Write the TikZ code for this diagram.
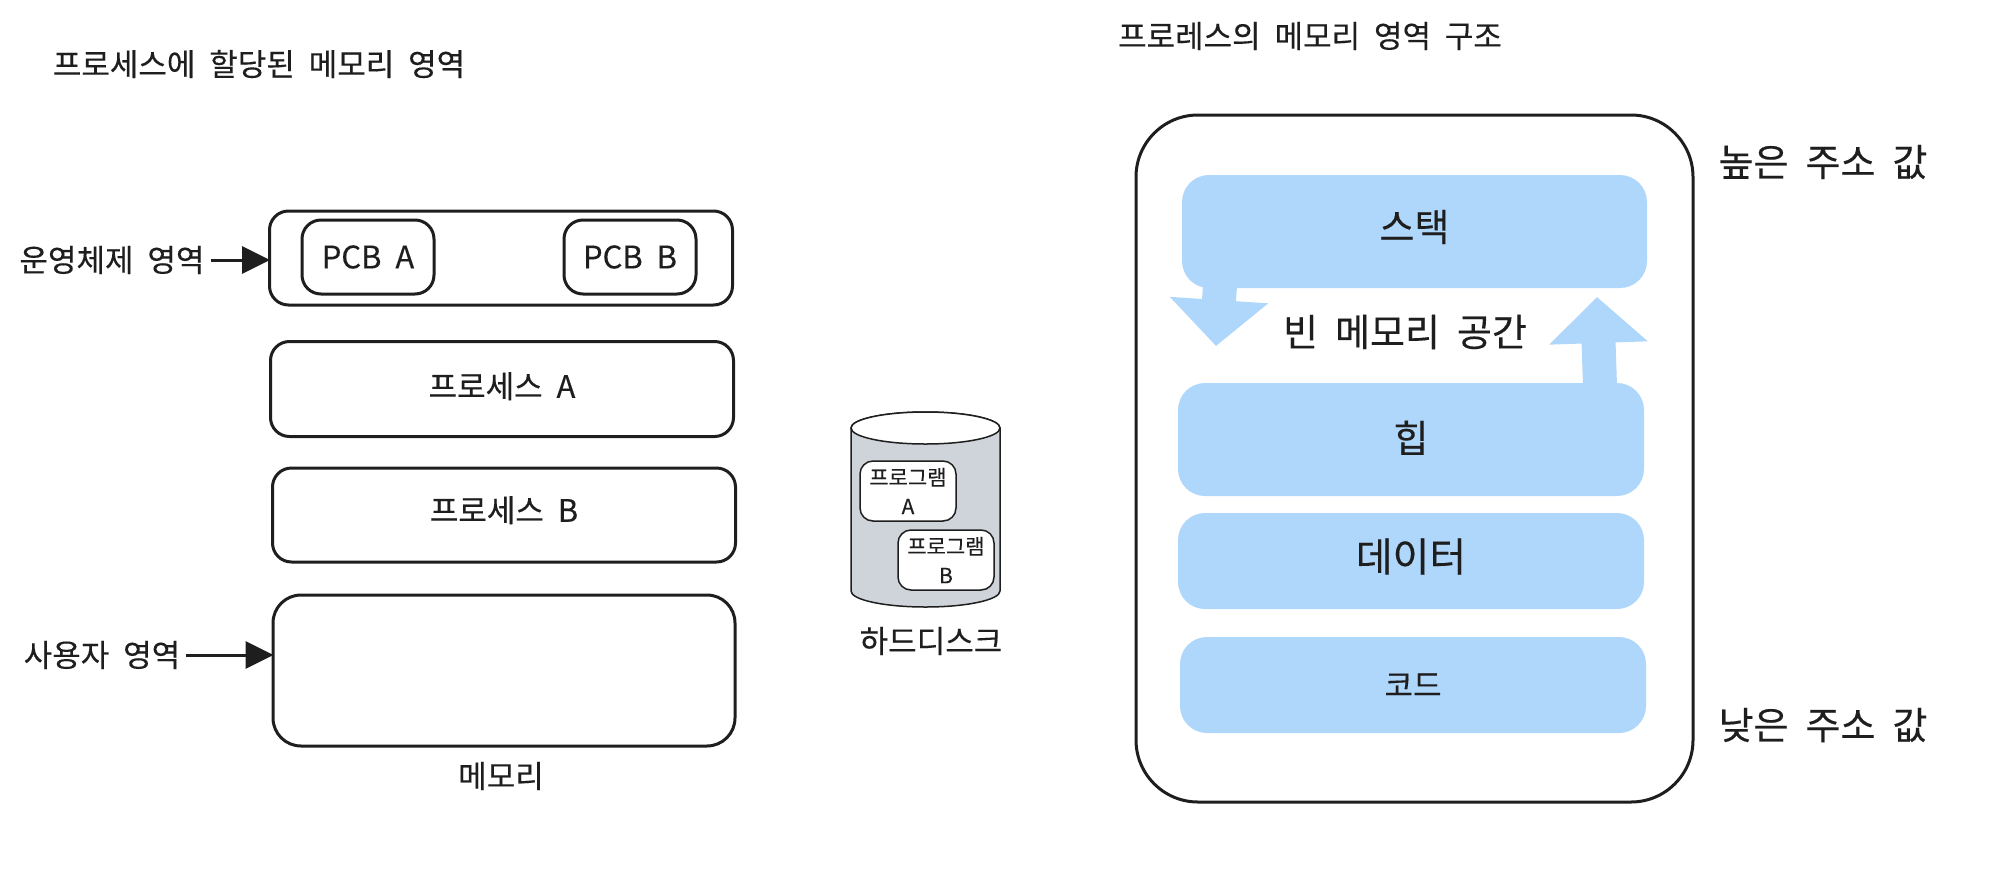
\documentclass[tikz,border=0pt]{standalone}
\usepackage{fontspec}
\setmainfont[WordSpace=2,FakeBold=0.25]{Noto Sans CJK KR}
\usepackage{tikz}
\usepackage{xcolor}
\usetikzlibrary{arrows.meta}
\definecolor{inkblack}{HTML}{1E1E1E}
\definecolor{segblue}{HTML}{AFD6FB}
\definecolor{diskgray}{HTML}{CED4D9}
\tikzset{
	smalllabel/.style={inner sep=0pt, text=inkblack, font=\fontsize{31}{36}\selectfont},
	biglabel/.style={inner sep=0pt, text=inkblack, font=\fontsize{38}{44}\selectfont},
	membox/.style={draw=inkblack, line width=3pt, rounded corners=19pt, fill=white, inner sep=0pt, font=\fontsize{31}{36}\selectfont, text=inkblack},
	segbox/.style={fill=segblue, rounded corners=27pt, inner sep=0pt, text=inkblack, font=\fontsize{38}{44}\selectfont},
	progbox/.style={draw=inkblack, line width=1.5pt, rounded corners=13pt, fill=white, inner sep=0pt, align=center, minimum width=96pt, minimum height=60pt, text=inkblack, font=\fontsize{21}{29}\selectfont},
	pointer/.style={draw=inkblack, line width=3pt, shorten <=6pt, shorten >=-2pt, -{Triangle[length=28pt,width=27pt]}},
	growth/.style={draw=segblue, line width=34pt, -{Triangle[length=46pt,width=96pt]}}
}

\begin{document}
\begin{tikzpicture}[x=1pt, y=-1pt]
	\useasboundingbox (0,0) rectangle (1992,876);

	% memory side
	\node[smalllabel] (titleleft) at (259,64) {프로세스에 할당된 메모리 영역};
	\foreach \name/\x/\y/\w/\h/\up/\txt in {
		osbox/501/258/463/94/0/{},
		procA/502/389/463/95/8/프로세스 A,
		procB/504/515/463/94/12/프로세스 B}
	{
		\node[membox, minimum width=\w pt, minimum height=\h pt] (\name) at (\x,\y) {\raisebox{\up pt}{\txt}};
	}
	\node[membox, rounded corners=28pt, minimum width=462pt, minimum height=151pt] (userbox) at (504,670.5) {};
	\foreach \name/\x/\txt in {pcbA/368/PCB A, pcbB/630/PCB B}
	{
		\node[membox, minimum width=132pt, minimum height=74pt] (\name) at (\x,257) {\txt};
	}
	\node[smalllabel] (oslabel) at (112,260) {운영체제 영역};
	\node[smalllabel] (userlabel) at (102,655) {사용자 영역};
	\draw[pointer] (oslabel.east) -- (oslabel -| osbox.west);
	\draw[pointer] (userlabel.east) -- (userlabel -| userbox.west);
	\node[smalllabel] (memlabel) at (501,776) {메모리};

	% hard disk
	\draw[draw=inkblack, line width=1.5pt, fill=diskgray] (851,428) -- (851,591) arc[start angle=180, end angle=360, x radius=74.5pt, y radius=16pt] -- (1000,428) arc[start angle=0, end angle=180, x radius=74.5pt, y radius=16pt] -- cycle;
	\draw[draw=inkblack, line width=1.5pt, fill=white] (925.5,428) ellipse[x radius=74.5pt, y radius=16pt];
	\node[progbox] (progA) at (908,491) {프로그램\\A};
	\node[progbox] (progB) at (946,560) {프로그램\\B};
	\node[smalllabel] (disklabel) at (931,641) {하드디스크};

	% address space side
	\node[smalllabel] (titleright) at (1310,36) {프로레스의 메모리 영역 구조};
	\node[draw=inkblack, line width=3pt, rounded corners=62pt, minimum width=557pt, minimum height=687pt] (outer) at (1414.5,458.5) {};
	\coordinate (stackend) at (1216,346);
	\coordinate (heapend) at (1597,297);
	\foreach \name/\x/\y/\w/\h/\up/\txt in {
		stack/1414.5/231.5/465/113/12/스택,
		heap/1411/439.5/466/113/6/힙,
		dataseg/1411/561/466/96/12/{\fontsize{40}{46}\selectfont 데이터}}
	{
		\node[segbox, minimum width=\w pt, minimum height=\h pt] (\name) at (\x,\y) {\raisebox{\up pt}{\txt}};
	}
	\node[segbox, font=\fontsize{31}{36}\selectfont, minimum width=466pt, minimum height=96pt] (code) at (1413,685) {코드};
	\draw[growth] (stack.south -| 1220,0) ++(0,-3) -- (stackend);
	\draw[growth] (heap.north -| 1600,0) ++(0,3) -- (heapend);
	\node[biglabel] (freelabel) at (1405,332) {빈 메모리 공간};
	\node[biglabel] (highlabel) at (1823,162) {높은 주소 값};
	\node[biglabel] (lowlabel) at (1823,725) {낮은 주소 값};
\end{tikzpicture}
\end{document}
